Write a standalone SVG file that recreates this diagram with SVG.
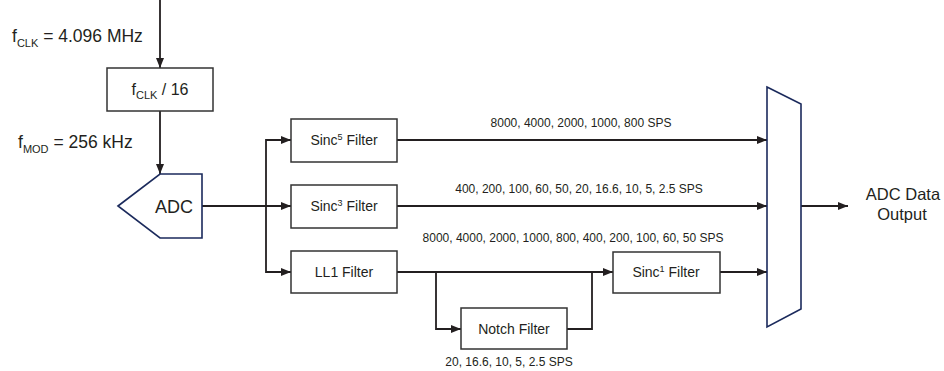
<svg xmlns="http://www.w3.org/2000/svg" width="944" height="371" viewBox="0 0 944 371">
<style>
text{font-family:"Liberation Sans",Arial,sans-serif;fill:#231f20}
.box{fill:#fff;stroke:#333;stroke-width:1.5}
.blk{fill:#fff;stroke:#1b2a5c;stroke-width:1.6}
.lbl{font-size:14px;text-anchor:middle}
.sps{font-size:12px;text-anchor:middle}
.big{font-size:17.5px}
.out{font-size:16.5px;text-anchor:middle}
.sub{font-size:11px}
.ln{fill:none;stroke:#231f20;stroke-width:1.8}
</style>
<defs>
<marker id="ah" viewBox="0 0 10 8" refX="10" refY="4" markerWidth="10" markerHeight="8" markerUnits="userSpaceOnUse" orient="auto">
<path d="M0,0 L10,4 L0,8 z" fill="#231f20"/>
</marker>
</defs>
<g id="connectors">
<path class="ln" d="M160,0 V68" marker-end="url(#ah)"/>
<path class="ln" d="M160,111 V174" marker-end="url(#ah)"/>
<path class="ln" d="M202,206 H291" marker-end="url(#ah)" stroke-width="2.2"/>
<path class="ln" d="M266,206 V140 H291" marker-end="url(#ah)"/>
<path class="ln" d="M266,206 V272 H291" marker-end="url(#ah)"/>
<path class="ln" d="M397,140 H767" marker-end="url(#ah)"/>
<path class="ln" d="M397,206 H767" marker-end="url(#ah)"/>
<path class="ln" d="M397,272 H613" marker-end="url(#ah)"/>
<path class="ln" d="M436,272 V329 H461" marker-end="url(#ah)"/>
<path class="ln" d="M567,329 H592 V272"/>
<path class="ln" d="M720,272 H767" marker-end="url(#ah)"/>
<path class="ln" d="M801,206 H848" marker-end="url(#ah)"/>
</g>
<g id="fclk-label">
<text x="12" y="42" class="big">f<tspan class="sub" dy="5">CLK</tspan><tspan dy="-5"> = 4.096 MHz</tspan></text>
</g>
<g id="fmod-label">
<text x="18" y="148" class="big">f<tspan class="sub" dy="5">MOD</tspan><tspan dy="-5"> = 256 kHz</tspan></text>
</g>
<g id="divider">
<rect class="box" x="107" y="68" width="106" height="43"/>
<text x="160" y="95" style="font-size:16px;text-anchor:middle">f<tspan class="sub" dy="4">CLK</tspan><tspan dy="-4"> / 16</tspan></text>
</g>
<g id="adc">
<polygon class="blk" points="118,206 160,174 202,174 202,238 160,238"/>
<text x="174" y="213" style="font-size:18px;text-anchor:middle">ADC</text>
</g>
<g id="sinc5">
<rect class="box" x="291" y="119" width="106" height="43"/>
<text x="344" y="145" class="lbl">Sinc<tspan font-size="9" dy="-5">5</tspan><tspan dy="5"> Filter</tspan></text>
</g>
<g id="sinc3">
<rect class="box" x="291" y="185" width="106" height="43"/>
<text x="344" y="211" class="lbl">Sinc<tspan font-size="9" dy="-5">3</tspan><tspan dy="5"> Filter</tspan></text>
</g>
<g id="ll1">
<rect class="box" x="291" y="251" width="106" height="42"/>
<text x="344" y="277" class="lbl">LL1 Filter</text>
</g>
<g id="notch">
<rect class="box" x="461" y="308" width="106" height="41"/>
<text x="514" y="334" class="lbl">Notch Filter</text>
</g>
<g id="sinc1">
<rect class="box" x="613" y="252" width="107" height="41"/>
<text x="666" y="277" class="lbl">Sinc<tspan font-size="9" dy="-5">1</tspan><tspan dy="5"> Filter</tspan></text>
</g>
<g id="mux">
<polygon class="blk" points="767,87 801,104 801,309 767,327"/>
</g>
<g id="output">
<text x="903" y="200" class="out">ADC Data</text>
<text x="902" y="220" class="out">Output</text>
</g>
<g id="rate-labels">
<text x="581" y="127" class="sps">8000, 4000, 2000, 1000, 800 SPS</text>
<text x="579" y="193" class="sps">400, 200, 100, 60, 50, 20, 16.6, 10, 5, 2.5 SPS</text>
<text x="573" y="242" class="sps">8000, 4000, 2000, 1000, 800, 400, 200, 100, 60, 50 SPS</text>
<text x="509" y="366" class="sps">20, 16.6, 10, 5, 2.5 SPS</text>
</g>
</svg>
